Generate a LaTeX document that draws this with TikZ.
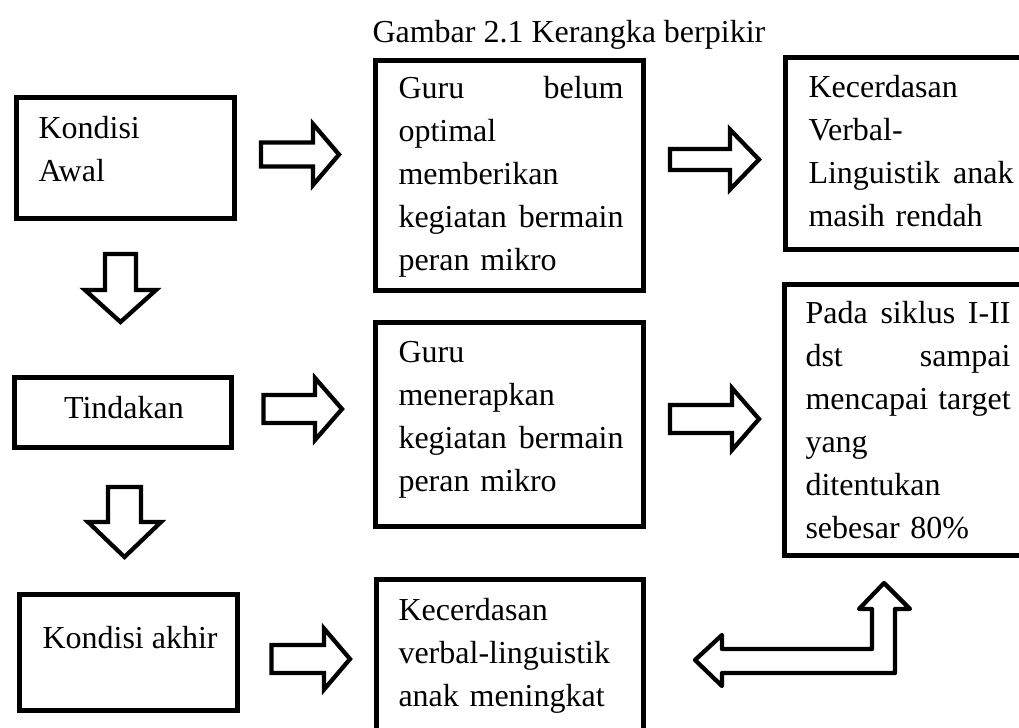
\documentclass[tikz,border=0pt]{standalone}
\usepackage{fontspec}
\setmainfont{Liberation Serif}
\usetikzlibrary{fit,calc}

\begin{document}
\begin{tikzpicture}[x=0.375pt,y=-0.375pt,
  font=\fontsize{12}{16.1}\selectfont,
  box/.style={draw,line width=1.7pt,inner sep=0pt},
  txt/.style={inner sep=0pt,anchor=north west,align=left},
  arrowline/.style={draw,line width=1.6pt,fill=white},
  pics/blockarrow/.style n args={4}{code={
    \draw[arrowline] (0,-#3) -- (#1-#2,-#3) -- (#1-#2,-#4) -- (#1,0)
      -- (#1-#2,#4) -- (#1-#2,#3) -- (0,#3) -- cycle;}}]
\clip (0,0) rectangle (1019,727);
\node[anchor=base west,inner sep=0pt] (judul) at (372,42) {Gambar 2.1 Kerangka berpikir};
\node[box,fit={(16.5,97.5) (234.5,218.5)}] (kawal) {};
\node[box,fit={(375.5,60.5) (643.5,290.5)}] (gbelum) {};
\node[box,fit={(785.5,57.5) (1040,249.5)}] (kcrendah) {};
\node[box,fit={(14.5,377.5) (231.5,447.5)}] (tindakan) {};
\node[box,fit={(375.5,322.5) (643.5,526.5)}] (gterap) {};
\node[box,fit={(784.5,284.5) (1040,555.5)}] (siklus) {};
\node[box,fit={(19.5,594.5) (237.5,710.5)}] (kakhir) {};
\node[box,fit={(376.5,579.5) (643.5,760)}] (kmeningkat) {};
\node[txt] (tkawal) at (38,116) {Kondisi\\Awal};
\node[txt,text width=84.4pt] (tgbelum) at (398,76) {Guru\hfill belum\\optimal\\memberikan\\kegiatan\hfill bermain\\peran mikro};
\node[txt,text width=76.9pt] (tkcrendah) at (808,75) {Kecerdasan\\Verbal-\\Linguistik\hfill anak\\masih rendah};
\node[anchor=base,inner sep=0pt] (ttindakan) at (124,418) {Tindakan};
\node[txt,text width=84.4pt] (tgterap) at (398,341) {Guru\\menerapkan\\kegiatan\hfill bermain\\peran mikro};
\node[txt,text width=76.9pt] (tsiklus) at (805,301) {Pada\hfill siklus\hfill I-II\\dst\hfill sampai\\mencapai\hfill target\\yang\\ditentukan\\sebesar 80\%};
\node[anchor=base west,inner sep=0pt] (tkakhir) at (42,648) {Kondisi akhir};
\node[txt,text width=84.4pt] (tkmeningkat) at (398,598) {Kecerdasan\\verbal-linguistik\\anak meningkat};
\pic at (261,154.5) {blockarrow={78}{26}{12}{30.5}};
\pic at (670,159.5) {blockarrow={89}{29}{10.5}{30}};
\pic at (263.5,409) {blockarrow={78.5}{27}{14}{31}};
\pic at (670,419) {blockarrow={89}{27}{14}{31}};
\pic at (271.5,659) {blockarrow={78.5}{26}{14}{30.5}};
\pic[rotate=-90] at (120.5,254) {blockarrow={68}{32}{15.5}{35.5}};
\pic[rotate=-90] at (124.5,487) {blockarrow={70}{35}{16.5}{36.5}};
\draw[arrowline,line join=round] (695,660) -- (722,635) -- (722,649) -- (872,649) -- (872,609)
  -- (859,609) -- (884,583) -- (910,609) -- (895,609) -- (895,673) -- (722,673) -- (722,686) -- cycle;
\end{tikzpicture}
\end{document}
